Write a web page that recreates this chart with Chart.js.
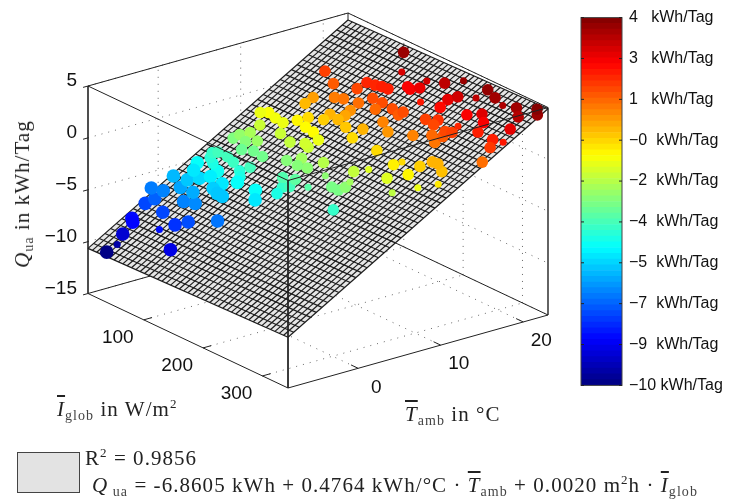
<!DOCTYPE html>
<html>
<head>
<meta charset="utf-8">
<script src="https://cdn.jsdelivr.net/npm/chart.js@4"></script>
<style>
  html, body { margin: 0; padding: 0; background: #fff; }
  #wrap { position: relative; width: 729px; height: 501px; overflow: hidden; }
  canvas { position: absolute; display: block; filter: blur(0.3px); }
  .tex { position: absolute; white-space: pre; color: #222; font-family: "Liberation Serif", serif; font-size: 21px; letter-spacing: 1.05px; line-height: 24px; }
  .tex i { font-style: italic; }
  .tex .bar { text-decoration: overline; }
  .tex sub { font-size: 14px; line-height: 0; vertical-align: -4px; color: #444; }
  .tex sup { font-size: 13px; line-height: 0; vertical-align: 8px; }
  #qLabel { left: 22px; top: 194px; transform: translate(-50%, -50%) rotate(-90deg); }
  #iLabel { left: 57px; top: 397px; }
  #tLabel { left: 405px; top: 402px; }
  #r2Label { left: 85px; top: 446px; }
  #eqLabel { left: 92px; top: 473px; }
  #swatch { position: absolute; left: 17px; top: 452px; width: 61px; height: 39px; background: #e3e3e3; border: 1px solid #444; }
</style>
</head>
<body>
<div id="wrap">
  <canvas id="plot" width="729" height="501" style="left:0;top:0;width:729px;height:501px"></canvas>
  <canvas id="bar" width="154" height="401" style="left:575px;top:1px;width:154px;height:401px"></canvas>
  <div class="tex" id="qLabel"><i>Q</i><sub>ua</sub> in kWh/Tag</div>
  <div class="tex" id="iLabel"><i class="bar">I</i><sub>glob</sub> in W/m<sup>2</sup></div>
  <div class="tex" id="tLabel"><i class="bar">T</i><sub>amb</sub> in °C</div>
  <div id="swatch"></div>
  <div class="tex" id="r2Label">R<sup>2</sup> = 0.9856</div>
  <div class="tex" id="eqLabel"><i>Q</i><sub> ua</sub> = -6.8605 kWh + 0.4764 kWh/°C · <i class="bar">T</i><sub>amb</sub> + 0.0020 m<sup>2</sup>h · <i class="bar">I</i><sub>glob</sub></div>
</div>
<script>
const tamb = [
  -8.1, -6.9, -5.8, -3.9, -4.3, -3.8, -5.2, -2.7, -2.1, -2.0, -1.2, -0.4, -0.1, -1.9, -0.3, 0.1, 0.9, 0.9, 1.7, 1.8,
  2.5, 3.1, -0.5, 3.8, 3.0, 3.8, 3.0, 3.1, 1.8, 2.2, 1.9, 4.4, 4.8, 5.4, 5.6, 5.6, 5.3, 4.9, 5.6, 4.3,
  3.7, 3.8, 2.9, 5.2, 4.4, 5.5, 6.1, 7.5, 8.1, 8.7, 7.7, 8.2, 7.3, 7.1, 6.8, 11.3, 11.1, 11.0, 11.1, 11.9,
  9.8, 10.0, 9.5, 7.8, 8.6, 8.0, 7.8, 6.4, 6.3, 9.1, 8.1, 7.3, 7.3, 7.8, 5.4, 9.6, 8.5, 10.4, 9.3, 10.4,
  11.9, 12.5, 11.6, 12.8, 13.8, 13.3, 13.9, 10.9, 12.0, 12.4, 17.4, 16.7, 14.6, 13.7, 15.4, 15.7, 17.2, 18.1, 18.3, 18.4,
  18.5, 16.0, 15.0, 17.0, 17.0, 16.8, 16.1, 14.3, 13.7, 13.0, 13.6, 12.5, 11.6, 11.4, 13.3, 12.6, 13.8, 14.6, 15.3, 16.6,
  9.9, 11.0, 10.1, 15.4, 15.6, 16.5, 17.1, 22.4, 20.6, 19.5, 19.3, 19.9, 20.9, 21.4, 22.4, 20.0, 20.7, 18.7, 21.4, 22.6,
  22.2, 21.9, 22.2, 22.5, 21.4, 22.9, 19.5, 20.1, 19.5, 18.4, 19.0, 17.8, 17.3, 17.2, 16.2, 17.0, 17.2, 18.0, 20.0, 18.3,
  17.5, 18.5, 15.9,
];
const iglob = [
  32, 33, 27, 16, 23, 61, 99, 72, 43, 12, 17, 0, 16, 83, 53, 67, 52, 31, 8, 30,
  41, 20, 113, 19, 24, 53, 72, 51, 89, 68, 79, 37, 27, 22, 29, 45, 59, 75, 83, 84,
  88, 117, 129, 143, 145, 151, 131, 28, 31, 40, 46, 59, 65, 83, 52, 35, 49, 25, 62, 75,
  41, 73, 96, 114, 128, 146, 132, 148, 171, 158, 175, 208, 197, 213, 226, 202, 211, 216, 271, 247,
  237, 243, 266, 269, 276, 299, 284, 292, 311, 202, 45, 69, 64, 63, 89, 100, 102, 106, 117, 127,
  136, 121, 121, 131, 147, 167, 148, 122, 105, 104, 120, 85, 93, 109, 137, 158, 159, 190, 172, 180,
  121, 123, 113, 221, 255, 256, 181, 108, 130, 155, 162, 170, 168, 191, 209, 216, 223, 188, 244, 247,
  265, 282, 301, 332, 315, 326, 255, 272, 283, 289, 217, 230, 216, 231, 242, 253, 262, 261, 321, 315,
  322, 330, 331,
];
const qua = [
  -10.4, -9.9, -9.3, -8.5, -8.6, -8.4, -9.0, -7.9, -7.6, -7.6, -7.2, -6.8, -6.7, -7.5, -6.7, -6.6, -6.1, -6.2, -5.9, -5.7,
  -5.4, -5.1, -6.9, -4.8, -5.2, -4.7, -5.2, -5.1, -5.7, -5.6, -5.7, -4.5, -4.3, -4.1, -3.9, -3.9, -4.0, -4.3, -3.9, -4.5,
  -4.8, -4.8, -5.2, -4.1, -4.5, -3.9, -3.7, -3.0, -2.7, -2.4, -2.9, -2.6, -3.2, -3.2, -3.3, -1.2, -1.3, -1.4, -1.4, -1.0,
  -1.9, -1.9, -2.0, -2.9, -2.5, -2.8, -2.9, -3.5, -3.6, -2.2, -2.8, -3.1, -3.1, -2.8, -4.1, -2.0, -2.5, -1.6, -2.1, -1.6,
  -0.9, -0.6, -1.0, -0.4, 0.0, -0.2, 0.0, -1.4, -0.8, -0.6, 1.7, 1.3, 0.3, -0.1, 0.8, 0.9, 1.6, 2.1, 2.1, 2.2,
  2.2, 1.0, 0.5, 1.5, 1.5, 1.5, 1.1, 0.2, 0.0, -0.4, -0.1, -0.6, -1.1, -1.1, -0.3, -0.6, 0.0, 0.4, 0.7, 1.3,
  -1.9, -1.4, -1.8, 0.7, 0.9, 1.3, 1.5, 4.1, 3.2, 2.7, 2.7, 2.9, 3.3, 3.6, 4.1, 3.0, 3.3, 2.3, 3.6, 4.2,
  4.0, 3.8, 4.0, 4.1, 3.7, 4.4, 2.7, 3.1, 2.7, 2.2, 2.5, 1.9, 1.7, 1.6, 1.1, 1.6, 1.7, 2.1, 3.0, 2.2,
  1.8, 2.3, 1.0,
];
// dots that mostly sink below the fitted plane
const sunkenDots = [1, 5, 21, 68, 70, 76, 77, 78, 81, 87, 88, 128, 132, 134, 137, 138, 141, 157, 161];

const tTicks = [0, 10, 20];
const iTicks = [100, 200, 300];
const qTicks = [5, 0, -5, -10, -15];
const planeCoef = [-6.62, 0.4756, 0.00163];
const barLabels = ['\u221210 kWh/Tag', '\u22129  kWh/Tag', '\u22127  kWh/Tag', '\u22125  kWh/Tag', '\u22124  kWh/Tag',
  '\u22122  kWh/Tag', '\u22120  kWh/Tag', '1   kWh/Tag', '3   kWh/Tag', '4   kWh/Tag'];

const T_MIN = -8.5, T_MAX = 23, I_MIN = 6, I_MAX = 343, Q_MIN = -15, Q_MAX = 5;
const C_MIN = -10.5, C_MAX = 4.5;
const MESH = 46;

// screen frame of the 3d box, the rest follows from it
const ORIGIN = [88, 86];
const T_VEC = [260, -73];
const I_VEC = [200, 94.5];
const Q_SPAN = 207.5;

function project(t, i, q) {
  const u = (t - T_MIN) / (T_MAX - T_MIN);
  const v = (i - I_MIN) / (I_MAX - I_MIN);
  const w = (Q_MAX - q) / (Q_MAX - Q_MIN);
  return { x: ORIGIN[0] + u * T_VEC[0] + v * I_VEC[0], y: ORIGIN[1] + u * T_VEC[1] + v * I_VEC[1] + w * Q_SPAN };
}

function plane(t, i) {
  return planeCoef[0] + planeCoef[1] * t + planeCoef[2] * i;
}

function jet(level) {
  const f = (c) => Math.round(255 * Math.max(0, Math.min(1, 1.5 - Math.abs(4 * level - c))));
  return `rgb(${f(3)},${f(2)},${f(1)})`;
}

function qColor(q) {
  return jet(Math.max(0, Math.min(1, (q - C_MIN) / (C_MAX - C_MIN))));
}

function line(points, color, width, dash) {
  return {
    data: points, showLine: true, pointRadius: 0, borderColor: color, borderWidth: width,
    borderDash: dash || [], fill: false, tension: 0, clip: false,
  };
}

const dotted = (a, b) => line([a, b], '#666', 1, [1, 6]);
const solid = (a, b, w) => line([a, b], '#222', w || 1);

const gridSets = [];
for (const t of tTicks) {
  gridSets.push(dotted(project(t, I_MIN, Q_MIN), project(t, I_MIN, Q_MAX)));
  gridSets.push(dotted(project(t, I_MIN, Q_MIN), project(t, I_MAX, Q_MIN)));
}
for (const i of iTicks) {
  gridSets.push(dotted(project(T_MAX, i, Q_MIN), project(T_MAX, i, Q_MAX)));
  gridSets.push(dotted(project(T_MIN, i, Q_MIN), project(T_MAX, i, Q_MIN)));
}
for (const q of qTicks) {
  gridSets.push(dotted(project(T_MIN, I_MIN, q), project(T_MAX, I_MIN, q)));
  gridSets.push(dotted(project(T_MAX, I_MIN, q), project(T_MAX, I_MAX, q)));
}

const backEdges = [
  solid(project(T_MIN, I_MIN, Q_MIN), project(T_MAX, I_MIN, Q_MIN)),
  solid(project(T_MAX, I_MIN, Q_MIN), project(T_MAX, I_MAX, Q_MIN)),
  solid(project(T_MAX, I_MIN, Q_MIN), project(T_MAX, I_MIN, Q_MAX)),
  solid(project(T_MIN, I_MIN, Q_MAX), project(T_MAX, I_MIN, Q_MAX)),
  solid(project(T_MAX, I_MIN, Q_MAX), project(T_MAX, I_MAX, Q_MAX)),
  solid(project(T_MIN, I_MIN, Q_MIN), project(T_MIN, I_MIN, Q_MAX), 1.6),
  solid(project(T_MAX, I_MAX, Q_MIN), project(T_MAX, I_MAX, Q_MAX), 1.4),
];

const corner = (t, i) => project(t, i, plane(t, i));
const planeFill = {
  data: [corner(T_MIN, I_MIN), corner(T_MAX, I_MIN), corner(T_MAX, I_MAX), corner(T_MIN, I_MAX), corner(T_MIN, I_MIN)],
  showLine: true, pointRadius: 0, borderWidth: 0, borderColor: '#e6e6e6', backgroundColor: '#e6e6e6', fill: 'shape', tension: 0, clip: false,
};
const meshSets = [];
for (let k = 0; k <= MESH; k++) {
  const t = T_MIN + (T_MAX - T_MIN) * k / MESH;
  const i = I_MIN + (I_MAX - I_MIN) * k / MESH;
  meshSets.push(line([corner(t, I_MIN), corner(t, I_MAX)], '#1c1c1c', 1.2));
  meshSets.push(line([corner(T_MIN, i), corner(T_MAX, i)], '#1c1c1c', 1.2));
}

const dots = {
  data: tamb.map((t, k) => project(t, iglob[k], qua[k])),
  showLine: false,
  pointBackgroundColor: qua.map(qColor),
  pointBorderWidth: 0,
  pointRadius: tamb.map((t, k) => (sunkenDots.includes(k) ? 3.5 : t < 4 ? 6.8 : 5.8)),
  clip: false,
};

const frontEdges = [
  solid(project(T_MIN, I_MIN, Q_MAX), project(T_MIN, I_MAX, Q_MAX)),
  solid(project(T_MIN, I_MAX, Q_MAX), project(T_MAX, I_MAX, Q_MAX)),
  solid(project(T_MIN, I_MAX, Q_MAX), project(T_MIN, I_MAX, Q_MIN)),
  solid(project(T_MIN, I_MIN, Q_MIN), project(T_MIN, I_MAX, Q_MIN)),
  solid(project(T_MIN, I_MAX, Q_MIN), project(T_MAX, I_MAX, Q_MIN)),
];

const tickSets = [];
for (const t of tTicks) tickSets.push(solid(project(t, I_MAX, Q_MIN), project(t, I_MAX - 12, Q_MIN)));
for (const i of iTicks) tickSets.push(solid(project(T_MIN, i, Q_MIN), project(T_MIN + 1, i, Q_MIN)));
for (const q of qTicks) tickSets.push(solid(project(T_MIN, I_MIN, q), project(T_MIN - 0.6, I_MIN, q)));

// first entry is painted first, chart.js wants the reverse through order
const allSets = [...gridSets, ...backEdges, planeFill, ...meshSets, dots, ...frontEdges, ...tickSets];
allSets.forEach((ds, k) => { ds.order = allSets.length - k; });

const tickText = {
  id: 'tickText',
  afterDraw(chart) {
    const { ctx, scales } = chart;
    ctx.save();
    ctx.fillStyle = '#111';
    ctx.font = '19px "Liberation Sans", Arial, sans-serif';
    ctx.textBaseline = 'middle';
    const put = (text, p, dx, dy, align) => {
      ctx.textAlign = align;
      ctx.fillText(text, scales.x.getPixelForValue(p.x) + dx, scales.y.getPixelForValue(p.y) + dy);
    };
    qTicks.forEach((q) => put(String(q).replace('-', '\u2212'), project(T_MIN, I_MIN, q), -11, -5, 'right'));
    tTicks.forEach((t) => put(String(t), project(t, I_MAX, Q_MIN), 18, 19, 'center'));
    iTicks.forEach((i) => put(String(i), project(T_MIN, i, Q_MIN), -26, 18, 'center'));
    ctx.restore();
  },
};

new Chart(document.getElementById('plot'), {
  type: 'scatter',
  data: { datasets: allSets },
  options: {
    responsive: false,
    animation: false,
    events: [],
    layout: { padding: 0, autoPadding: false },
    plugins: { legend: { display: false }, tooltip: { enabled: false } },
    scales: {
      x: { type: 'linear', display: false, min: 0, max: 729 },
      y: { type: 'linear', display: false, reverse: true, min: 0, max: 501 },
    },
  },
  plugins: [tickText],
});

// colour bar, one stacked slab per colormap level
const BAR_LEVELS = 64;
const barSets = [];
for (let k = 0; k < BAR_LEVELS; k++) {
  barSets.push({ data: [(barLabels.length - 1) / BAR_LEVELS], backgroundColor: jet((k + 0.5) / BAR_LEVELS), borderWidth: 0, stack: 'c' });
}

const barFrame = {
  id: 'barFrame',
  afterDraw(chart) {
    const { ctx, chartArea: a, scales } = chart;
    ctx.save();
    ctx.strokeStyle = '#444';
    ctx.lineWidth = 1;
    ctx.strokeRect(a.left, a.top, a.right - a.left, a.bottom - a.top);
    ctx.strokeStyle = '#222';
    ctx.beginPath();
    barLabels.forEach((_, k) => {
      const y = scales.y.getPixelForValue(k);
      ctx.moveTo(a.left, y); ctx.lineTo(a.left + 3, y);
      ctx.moveTo(a.right - 3, y); ctx.lineTo(a.right, y);
    });
    ctx.stroke();
    ctx.restore();
  },
};

new Chart(document.getElementById('bar'), {
  type: 'bar',
  data: { labels: ['Q'], datasets: barSets },
  options: {
    responsive: false,
    animation: false,
    events: [],
    layout: { padding: { left: 6, top: 15, bottom: 13, right: 0 } },
    plugins: { legend: { display: false }, tooltip: { enabled: false } },
    datasets: { bar: { barPercentage: 1, categoryPercentage: 1 } },
    scales: {
      x: { display: false, stacked: true },
      y: {
        position: 'right',
        stacked: true,
        min: 0,
        max: barLabels.length - 1,
        afterFit(scale) { scale.width = 107; },
        grid: { display: false, drawTicks: false },
        border: { display: false },
        ticks: {
          stepSize: 1,
          padding: 7,
          color: '#111',
          font: { family: '"Liberation Sans", Arial, sans-serif', size: 16 },
          callback: (v) => barLabels[v],
        },
      },
    },
  },
  plugins: [barFrame],
});
</script>
</body>
</html>
